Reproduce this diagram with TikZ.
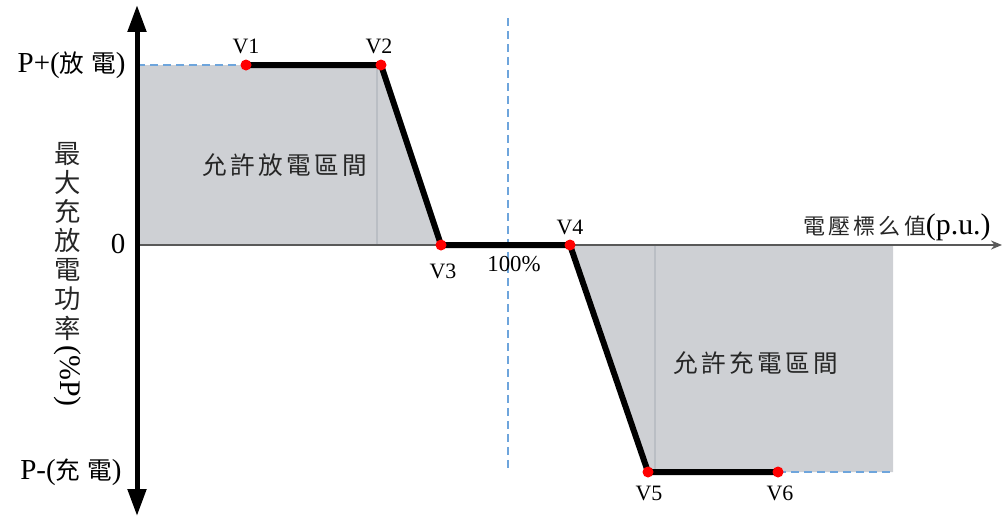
\documentclass[tikz,border=0pt]{standalone}
\usepackage{fontspec}
\setmainfont{Liberation Serif}
\newfontfamily\cjk{Noto Sans CJK TC}
\newfontfamily\cjkwide{Noto Sans CJK TC}[LetterSpace=14]
\usetikzlibrary{arrows.meta}
\definecolor{zonegray}{RGB}{206,208,212}
\definecolor{seamgray}{RGB}{186,190,196}
\definecolor{guideblue}{RGB}{110,165,220}
\newcommand{\zh}[1]{{\cjk\fontsize{14}{16}\selectfont #1}}
\begin{document}
\begin{tikzpicture}[x=0.02cm, y=-0.02cm, line join=round, line cap=round, >=stealth,
		zone/.style={fill=zonegray},
		seam/.style={draw=seamgray, line width=0.6pt},
		guide/.style={draw=guideblue, line width=0.6pt, line cap=butt, dash pattern=on 0.16cm off 0.1cm},
		xaxis/.style={draw=black!65, line width=0.04cm, -{Stealth[length=0.22cm, width=0.18cm]}},
		yaxis/.style={line width=0.1cm, line cap=butt, {Triangle[length=0.54cm, width=0.36cm]}-{Triangle[length=0.54cm, width=0.36cm]}},
		curve/.style={line width=0.12cm},
		dot/.style={fill=red},
		vtext/.style={inner sep=0pt, font=\fontsize{12.5}{15}\selectfont},
		ltext/.style={inner sep=0pt, font=\fontsize{16.5}{19}\selectfont},
		ctext/.style={inner sep=0pt, text=black!85, font=\cjkwide\fontsize{14}{16}\selectfont},
		ylab/.style={inner sep=0pt, align=center, text=black!85, font=\cjk\fontsize{15}{16.6}\selectfont}]
			\def\xO{137} \def\yO{245}  % gốc toạ độ
			\def\yP{65} \def\yN{472}   % mức P+ và P-
			\useasboundingbox (0,0) rectangle (1003,518);
			\coordinate (O) at (\xO,\yO);
			\coordinate (Ptop) at (\xO,\yP);
			\coordinate (V1) at (246,\yP);
			\coordinate (V2) at (381,\yP);
			\coordinate (V3) at (441,\yO);
			\coordinate (V4) at (570,\yO);
			\coordinate (V5) at (648,\yN);
			\coordinate (V6) at (778,\yN);
			\coordinate (Ztop) at (893,\yO);
			\coordinate (Zend) at (893,\yN);
			% vùng xả và vùng nạp
			\path[zone] (Ptop) -- (V2) -- (V3) -- (O) -- cycle;
			\path[zone] (V4) -- (Ztop) -- (Zend) -- (V5) -- cycle;
			\draw[seam] (377,\yP) -- (377,\yO);
			\draw[seam] (655,\yO) -- (655,\yN);
			\draw[guide] (Ptop) -- (V1);
			\draw[guide] (V6) -- (Zend);
			\draw[guide] (508,18) -- (508,\yN);
			% trục
			\draw[xaxis] (O) -- (1002,\yO);
			\draw[yaxis] (\xO,516) -- (\xO,5);
			\draw[curve] (V1) -- (V2) -- (V3) -- (V4) -- (V5) -- (V6);
			\foreach \i in {1,...,6} \fill[dot] (V\i) circle[radius=0.11cm];
			\node[vtext] (tV1) at (246,46) {V1};
			\node[vtext] (tV2) at (379,46) {V2};
			\node[vtext] (tV3) at (443,271) {V3};
			\node[vtext] (tV4) at (570,227) {V4};
			\node[vtext] (tV5) at (649,493) {V5};
			\node[vtext] (tV6) at (780,493) {V6};
			\node[vtext, font=\fontsize{13}{15}\selectfont] (t100) at (514,264) {100\%};
			\node[ltext, anchor=east] (Pplus) at (126,65) {P+(\zh{放\hspace{4pt}電})};
			\node[ltext, anchor=east] (Pminus) at (122,472) {P-(\zh{充\hspace{4pt}電})};
			\node[ltext] (zero) at (118,244) {0};
			\node[ylab] (ylabel) at (68,241) {最\\大\\充\\放\\電\\功\\率};
			\node[ltext, rotate=-90, font=\fontsize{17}{19}\selectfont] (yunit) at (68,376) {(\%P)};
			\node[ctext] (dzone) at (285,165) {允許放電區間};
			\node[ctext] (czone) at (756,363) {允許充電區間};
			\node[inner sep=0pt, anchor=east] (xlabel) at (991,227) {{\cjkwide\color{black!85}\fontsize{12.5}{15}\selectfont 電壓標么值}{\fontsize{17}{20}\selectfont(p.u.)}};
		\end{tikzpicture}
\end{document}
